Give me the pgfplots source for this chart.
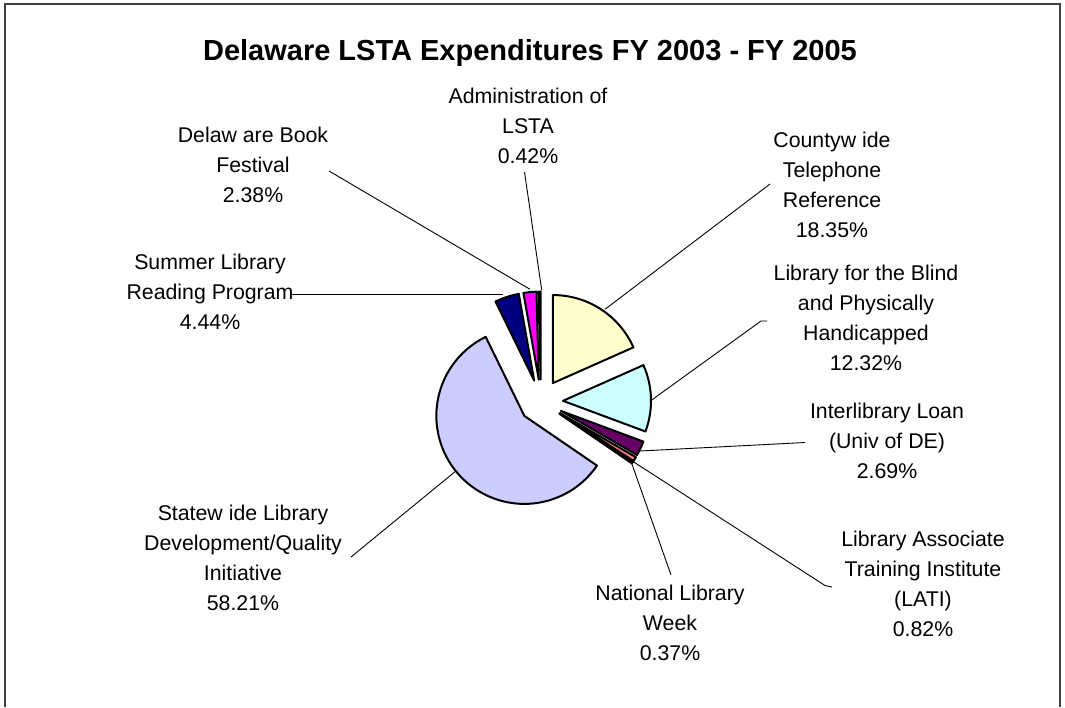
\documentclass[border=0pt]{standalone}
\usepackage{pgfplots}
\usepackage{pgfplotstable}
\pgfplotsset{compat=1.18}
\usepackage{fontspec}
\setmainfont{Liberation Sans}

\definecolor{cCounty}{HTML}{FFFFCC}
\definecolor{cBlind}{HTML}{CCFFFF}
\definecolor{cInter}{HTML}{660066}
\definecolor{cLati}{HTML}{FF8080}
\definecolor{cNat}{HTML}{0066CC}
\definecolor{cState}{HTML}{CCCCFF}
\definecolor{cSummer}{HTML}{000080}
\definecolor{cFest}{HTML}{FF00FF}
\definecolor{cAdmin}{HTML}{993366}

% share of LSTA expenditures, clockwise from 12 o'clock
\pgfplotstableread{
value color
18.35 cCounty
12.32 cBlind
2.69  cInter
0.82  cLati
0.37  cNat
58.21 cState
4.44  cSummer
2.38  cFest
0.42  cAdmin
}\piedata

\begin{document}
\begin{tikzpicture}[
  lbl/.style={align=center, font=\fontsize{21.3}{30}\selectfont, inner sep=0pt, anchor=south},
  lead/.style={black, line width=0.9pt}]
\begin{axis}[scale only axis, width=1065pt, height=707pt,
  xmin=0, xmax=1065, ymin=0, ymax=707, y dir=reverse,
  enlargelimits=false, hide axis, clip=false]
\fill[white] (axis cs:0,0) rectangle (axis cs:1065,707);
\draw[black!75, line width=1.6pt] (axis cs:5,707) -- (axis cs:5,4) -- (axis cs:1060,4) -- (axis cs:1060,707);

\def\cum{0}
\pgfplotsforeachungrouped \i in {0,...,8}{%
  \pgfplotstablegetelem{\i}{value}\of\piedata
  \let\sliceval\pgfplotsretval
  \pgfplotstablegetelem{\i}{color}\of\piedata
  \let\slicecol\pgfplotsretval
  \pgfmathsetmacro\aS{90-3.6*\cum}
  \pgfmathsetmacro\aE{90-3.6*(\cum+\sliceval)}
  \pgfmathsetmacro\aM{(\aS+\aE)/2}
  \pgfmathsetmacro\cx{541+22*cos(\aM)}
  \pgfmathsetmacro\cy{401.5-22*sin(\aM)}
  \edef\cmd{\noexpand\filldraw[fill=\slicecol,draw=black,line width=2pt,line join=round] (axis cs:\cx,\cy) -- ++(\aS:88pt) arc[start angle=\aS,end angle=\aE,radius=88pt] -- cycle;}
  \cmd
  \pgfmathsetmacro\cum{\cum+\sliceval}
}

% leader lines
\draw[lead] (axis cs:541.7,290) -- (axis cs:524.5,172);
\draw[lead] (axis cs:530,289.3) -- (axis cs:329,171);
\draw[lead] (axis cs:503.3,294.3) -- (axis cs:292,294.3);
\draw[lead] (axis cs:605,309.3) -- (axis cs:770,184);
\draw[lead] (axis cs:651.7,400) -- (axis cs:761,321) -- (axis cs:767,321);
\draw[lead] (axis cs:640,451) -- (axis cs:805,442.5);
\draw[lead] (axis cs:633.3,461.7) -- (axis cs:825,585.5) -- (axis cs:832,587);
\draw[lead] (axis cs:631.7,463.3) -- (axis cs:671,575);
\draw[lead] (axis cs:455,471.7) -- (axis cs:351,557);

% title
\node[anchor=base, font=\fontsize{29}{34}\selectfont\bfseries] at (axis cs:530,60) {Delaware LSTA Expenditures FY 2003 - FY 2005};

% labels
\node[lbl] at (axis cs:528,163.5) {Administration of\\LSTA\\0.42\%};
\node[lbl] at (axis cs:253,202.5) {Delaw are Book\\Festival\\2.38\%};
\node[lbl] at (axis cs:210,330) {Summer Library\\Reading Program\\4.44\%};
\node[lbl] at (axis cs:832,237.5) {Countyw ide\\Telephone\\Reference\\18.35\%};
\node[lbl] at (axis cs:866,370.5) {Library for the Blind\\and Physically\\Handicapped\\12.32\%};
\node[lbl] at (axis cs:887,479) {Interlibrary Loan\\(Univ of DE)\\2.69\%};
\node[lbl] at (axis cs:923,636.5) {Library Associate\\Training Institute\\(LATI)\\0.82\%};
\node[lbl] at (axis cs:670,660.5) {National Library\\Week\\0.37\%};
\node[lbl] at (axis cs:243,610.5) {Statew ide Library\\Development/Quality\\Initiative\\58.21\%};
\end{axis}
\pgfresetboundingbox
\path (0,0) rectangle (1065pt,707pt);
\end{tikzpicture}
\end{document}
